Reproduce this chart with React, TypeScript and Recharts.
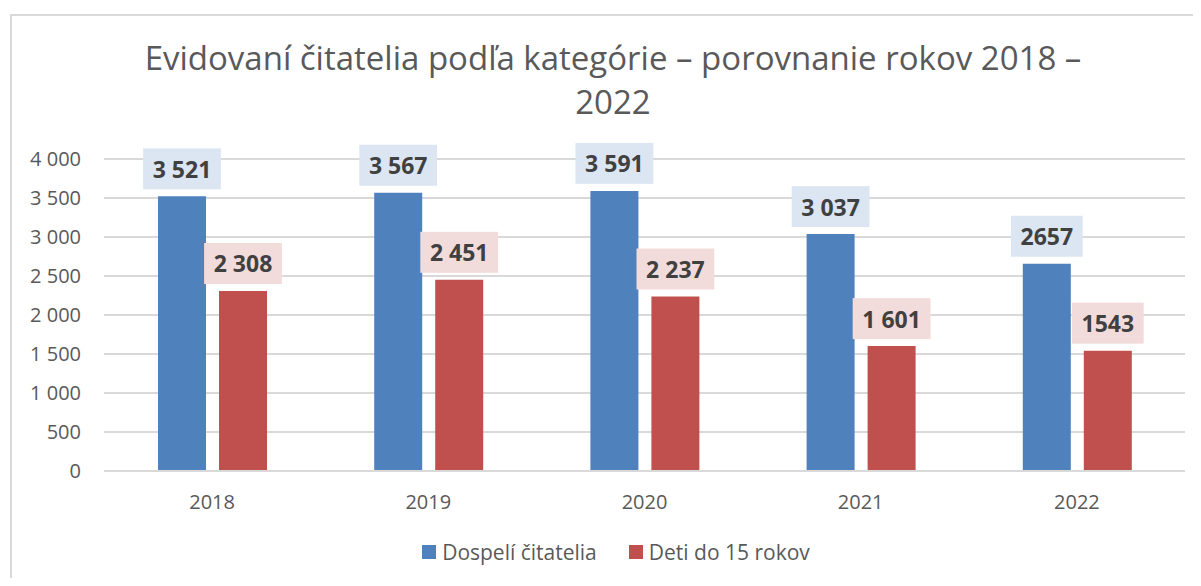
import React from "react";
import { BarChart, Bar, XAxis, YAxis, CartesianGrid, LabelList, Legend } from "recharts";

const years = ["2018", "2019", "2020", "2021", "2022"];
const adults = [3521, 3567, 3591, 3037, 2657];
const children = [2308, 2451, 2237, 1601, 1543];
const adultLabels = ["3 521", "3 567", "3 591", "3 037", "2657"];
const childLabels = ["2 308", "2 451", "2 237", "1 601", "1543"];
const yTicks = [0, 500, 1000, 1500, 2000, 2500, 3000, 3500, 4000];
const seriesNames = ["Dospelí čitatelia", "Deti do 15 rokov"];
const titleLines = ["Evidovaní čitatelia podľa kategórie – porovnanie rokov 2018 –", "2022"];

const BLUE = "#4F81BD";
const RED = "#C0504D";
const FONT = "'Open Sans', 'Noto Sans', sans-serif";

const data = years.map((y, i) => ({
  year: y,
  adults: adults[i],
  children: children[i],
  adultLabel: adultLabels[i],
  childLabel: childLabels[i],
}));

const fmt = (v: number) => {
  const s = String(v);
  return s.length > 3 ? s.slice(0, s.length - 3) + " " + s.slice(s.length - 3) : s;
};

const makeLabel = (bg: string) => (props: any) => {
  const { x, y, width, value } = props;
  const text = String(value);
  let w = 19;
  for (const ch of text) w += ch === " " ? 6 : 13.2;
  const h = 41;
  const cx = Number(x) + Number(width) / 2;
  const bottom = Number(y) - 7;
  return (
    <g>
      <rect x={cx - w / 2} y={bottom - h} width={w} height={h} fill={bg} />
      <text
        x={cx}
        y={bottom - h / 2}
        textAnchor="middle"
        dominantBaseline="central"
        fontFamily={FONT}
        fontWeight={700}
        fontSize={23}
        fill="#404040"
      >
        {text}
      </text>
    </g>
  );
};

const LegendContent = () => (
  <div
    style={{
      display: "flex",
      justifyContent: "center",
      alignItems: "center",
      fontFamily: FONT,
      fontSize: 21,
      lineHeight: "26px",
      height: 26,
      color: "#595959",
      gap: 32,
    }}
  >
    {seriesNames.map((n, i) => (
      <div key={n} style={{ display: "flex", alignItems: "center" }}>
        <span
          style={{
            display: "inline-block",
            width: 14,
            height: 14,
            background: i === 0 ? BLUE : RED,
            marginRight: 6,
          }}
        />
        <span>{n}</span>
      </div>
    ))}
  </div>
);

export default function App() {
  return (
    <div
      style={{
        position: "relative",
        width: 1201,
        height: 586,
        margin: -8,
        overflow: "hidden",
        background: "#fff",
      }}
    >
      <div
        style={{
          position: "absolute",
          left: 10,
          top: 14,
          right: -2,
          bottom: -2,
          borderTop: "2px solid #d9d9d9",
          borderLeft: "2px solid #d9d9d9",
        }}
      />
      {titleLines.map((t, i) => (
        <div
          key={i}
          style={{
            position: "absolute",
            left: 0,
            width: 1226,
            top: 36 + i * 44,
            textAlign: "center",
            fontFamily: FONT,
            fontSize: 33,
            lineHeight: "44px",
            color: "#595959",
            whiteSpace: "nowrap",
          }}
        >
          {t}
        </div>
      ))}
      <div style={{ position: "absolute", left: 0, top: 0 }}>
        <BarChart
          width={1201}
          height={586}
          data={data}
          margin={{ top: 159, right: 16, bottom: 59, left: 0 }}
          barSize={48}
          barGap={13}
        >
          <CartesianGrid vertical={false} stroke="#d9d9d9" strokeWidth={2} />
          <XAxis
            dataKey="year"
            height={30}
            axisLine={{ stroke: "#d9d9d9", strokeWidth: 2 }}
            tickLine={false}
            tickMargin={18}
            tick={{ fill: "#595959", fontSize: 20, fontFamily: FONT }}
          />
          <YAxis
            width={104}
            domain={[0, 4000]}
            ticks={yTicks}
            axisLine={false}
            tickLine={false}
            tickMargin={17}
            tickFormatter={fmt}
            tick={{ fill: "#595959", fontSize: 20, fontFamily: FONT }}
          />
          <Legend
            verticalAlign="bottom"
            content={<LegendContent />}
            wrapperStyle={{ position: "absolute", top: 539, left: 0, width: 1232, height: 26, bottom: "auto" }}
          />
          <Bar dataKey="adults" name={seriesNames[0]} fill={BLUE} isAnimationActive={false}>
            <LabelList dataKey="adultLabel" content={makeLabel("#DCE6F2")} />
          </Bar>
          <Bar dataKey="children" name={seriesNames[1]} fill={RED} isAnimationActive={false}>
            <LabelList dataKey="childLabel" content={makeLabel("#F2DCDB")} />
          </Bar>
        </BarChart>
      </div>
    </div>
  );
}
